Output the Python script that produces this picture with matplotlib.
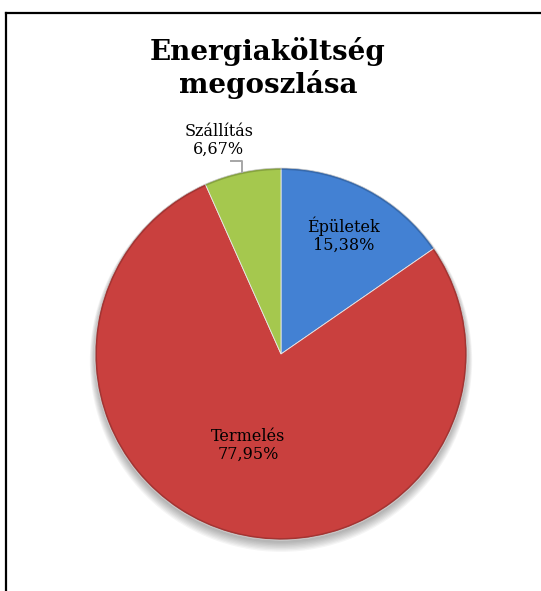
import matplotlib
matplotlib.use("Agg")
import matplotlib.pyplot as plt
import numpy as np
from matplotlib.patches import Circle
from matplotlib.lines import Line2D

#  Data
title = "Energiaköltség\nmegoszlása"
categories = ["Épületek", "Termelés", "Szállítás"]
shares = [15.38, 77.95, 6.67]
colors = ["#4381D3", "#C9403E", "#A5C84E"]
label_dist = [0.72, 0.51, 1.175]
label_shift = [0.0, -0.04, -0.09]

W, H = 541, 591
fig = plt.figure(figsize=(W / 100, H / 100), dpi=100)

#  Frame of the chart area (only the top and left borders are visible)
fig.add_artist(Line2D([6 / W, 6 / W], [0, 1 - 13 / H], color="black", lw=1.6))
fig.add_artist(Line2D([6 / W, 1], [1 - 13 / H, 1 - 13 / H], color="black", lw=1.6))

fig.text(268 / W, 1 - 68 / H, title, ha="center", va="center", fontsize=20,
         fontweight="bold", family="DejaVu Serif", linespacing=1.15)

#  Pie axes: center (281, 354) px, radius 186 px
cx, cy, R = 281, 354, 186
half = 200
ax = fig.add_axes([(cx - half) / W, 1 - (cy + half) / H, 2 * half / W, 2 * half / H])

#  Soft shadow under the pie
for k in range(8):
    ax.add_patch(Circle((0, -0.015 - 0.003 * k), 1.0 + 0.004 * k, color="black",
                        alpha=0.04, lw=0, zorder=0))

wedges, _ = ax.pie(shares, colors=colors, startangle=90, counterclock=False,
                   radius=1.0, wedgeprops=dict(edgecolor="#E8E8E8", linewidth=0.6))
for w in wedges:
    w.set_zorder(2)
#  Darker rim to mimic the bevel
ax.add_patch(Circle((0, 0), 0.995, fill=False, ec="black", lw=1.5, alpha=0.18, zorder=3))

lim = half / R
ax.set_xlim(-lim, lim)
ax.set_ylim(-lim, lim)
ax.set_aspect("equal")
ax.axis("off")

#  Labels
for w, cat, val, d, s in zip(wedges, categories, shares, label_dist, label_shift):
    mid = np.deg2rad((w.theta1 + w.theta2) / 2)
    x, y = d * np.cos(mid) + s, d * np.sin(mid)
    txt = "{}\n{}%".format(cat, "{:.2f}".format(val).replace(".", ","))
    ax.text(x, y, txt, ha="center", va="center", fontsize=11.5, family="DejaVu Serif",
            linespacing=1.1, zorder=5)
    if d > 1:
        ex, ey = np.cos(mid), np.sin(mid)
        ly = y - 0.112
        ax.plot([ex, ex, x + 0.065], [ey, ly, ly], color="#A6A6A6", lw=1.4, zorder=4)

fig.savefig("out.png", dpi=100)
